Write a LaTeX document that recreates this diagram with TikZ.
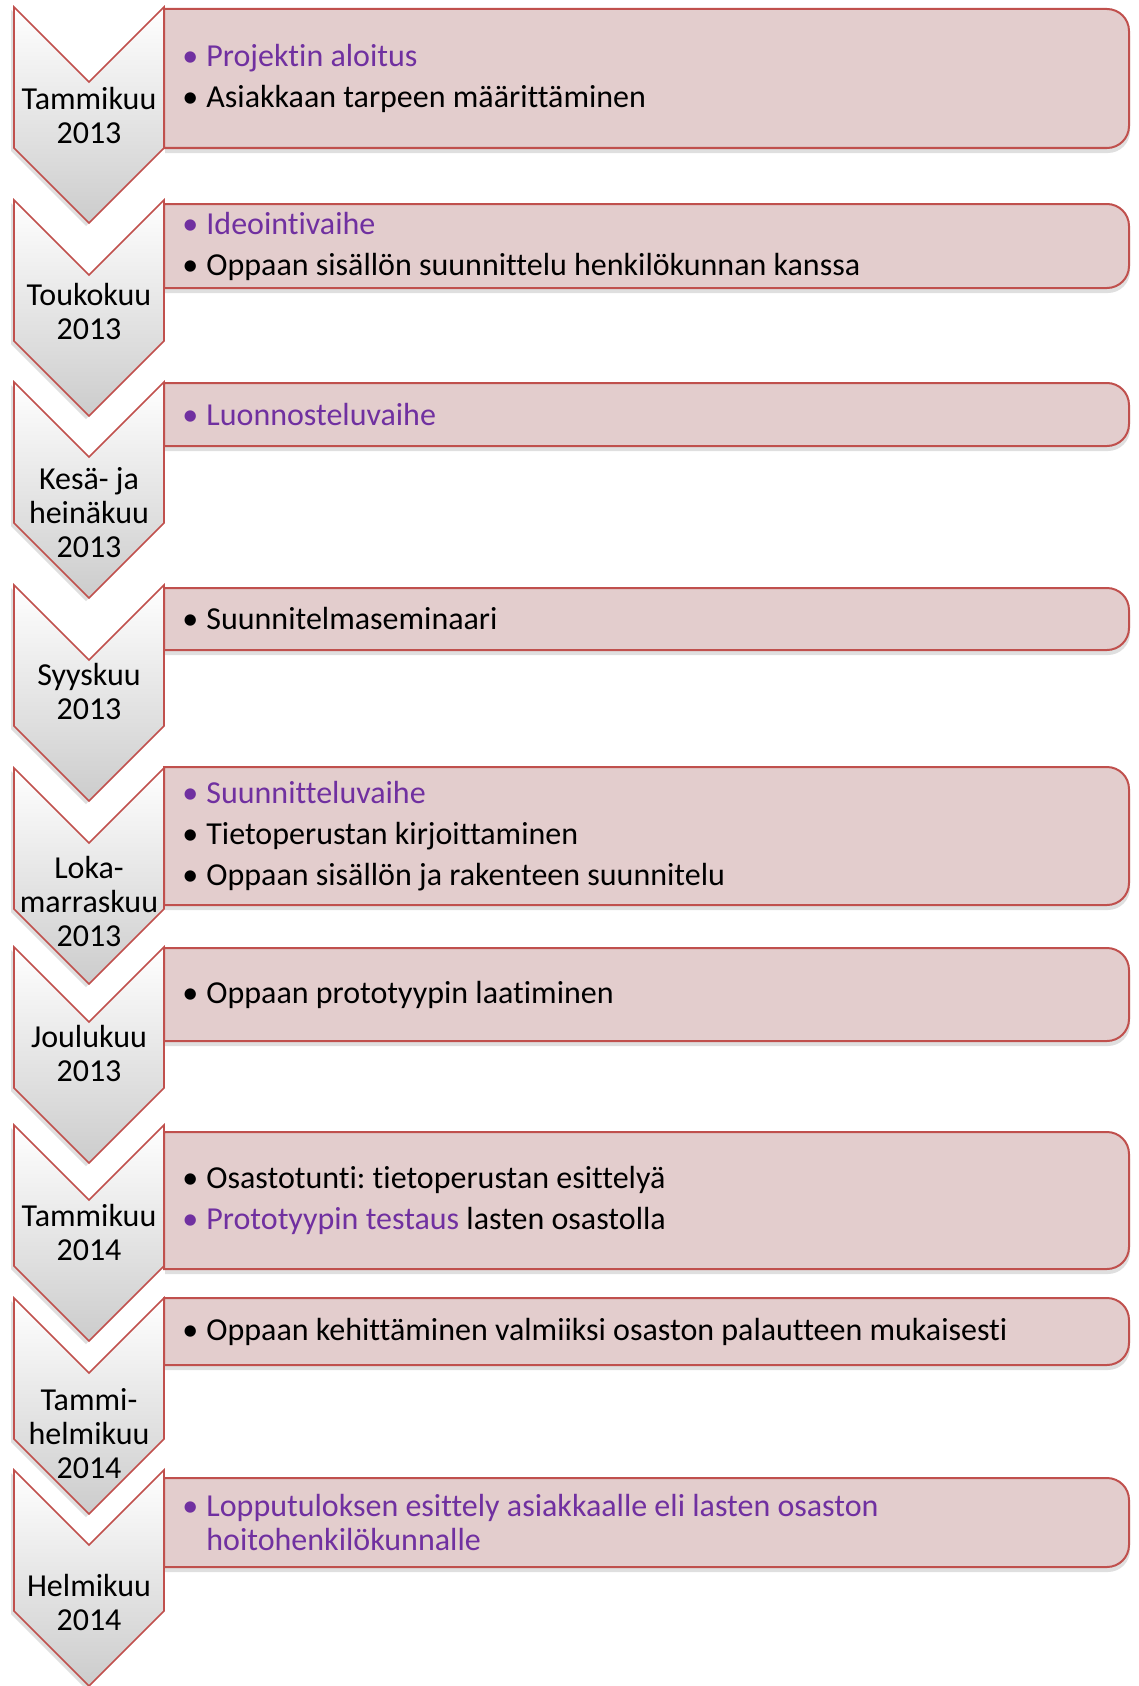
\documentclass[tikz,border=0pt]{standalone}
\usepackage{fontspec}
\setmainfont{Carlito}[Ligatures=NoCommon]
\usetikzlibrary{shadows}
\definecolor{boxfill}{HTML}{E3CDCD}
\definecolor{boxline}{HTML}{C0504D}
\definecolor{phasepurple}{HTML}{7030A0}
\newcommand{\bul}[1]{\makebox[12pt][l]{\textcolor{#1}{\textbullet}}}
\frenchspacing

\begin{document}
\begin{tikzpicture}[x=0.5pt,y=0.5pt,
    chev/.style={draw=boxline,line width=0.8pt,top color=white,bottom color=black!20,
      drop shadow={shadow xshift=-1.5pt,shadow yshift=-1.5pt,opacity=0.25}},
    phasebox/.style={draw=boxline,line width=1pt,fill=boxfill,
      drop shadow={shadow xshift=0.5pt,shadow yshift=-2.5pt,opacity=0.25}},
    month/.style={align=center,inner sep=0pt,font=\fontsize{16pt}{17pt}\selectfont},
    items/.style={anchor=west,align=left,inner sep=0pt,font=\fontsize{16pt}{17pt}\selectfont}]
    \useasboundingbox (0,0) rectangle (1139,-1686);

    % boxes on the right
    \draw[phasebox] (164,-9) -- (1107,-9) arc[start angle=90,end angle=0,radius=11pt]
        -- (1129,-126) arc[start angle=0,end angle=-90,radius=11pt] -- (164,-148) -- cycle;
    \draw[phasebox] (164,-204) -- (1107,-204) arc[start angle=90,end angle=0,radius=11pt]
        -- (1129,-266) arc[start angle=0,end angle=-90,radius=11pt] -- (164,-288) -- cycle;
    \draw[phasebox] (164,-383) -- (1107,-383) arc[start angle=90,end angle=0,radius=11pt]
        -- (1129,-424) arc[start angle=0,end angle=-90,radius=11pt] -- (164,-446) -- cycle;
    \draw[phasebox] (164,-588) -- (1107,-588) arc[start angle=90,end angle=0,radius=11pt]
        -- (1129,-628) arc[start angle=0,end angle=-90,radius=11pt] -- (164,-650) -- cycle;
    \draw[phasebox] (164,-767) -- (1107,-767) arc[start angle=90,end angle=0,radius=11pt]
        -- (1129,-883) arc[start angle=0,end angle=-90,radius=11pt] -- (164,-905) -- cycle;
    \draw[phasebox] (164,-948) -- (1107,-948) arc[start angle=90,end angle=0,radius=11pt]
        -- (1129,-1019) arc[start angle=0,end angle=-90,radius=11pt] -- (164,-1041) -- cycle;
    \draw[phasebox] (164,-1132) -- (1107,-1132) arc[start angle=90,end angle=0,radius=11pt]
        -- (1129,-1247) arc[start angle=0,end angle=-90,radius=11pt] -- (164,-1269) -- cycle;
    \draw[phasebox] (164,-1298) -- (1107,-1298) arc[start angle=90,end angle=0,radius=11pt]
        -- (1129,-1343) arc[start angle=0,end angle=-90,radius=11pt] -- (164,-1365) -- cycle;
    \draw[phasebox] (164,-1478) -- (1107,-1478) arc[start angle=90,end angle=0,radius=11pt]
        -- (1129,-1545) arc[start angle=0,end angle=-90,radius=11pt] -- (164,-1567) -- cycle;

    % chevrons on the left
    \draw[chev] (14,-7) -- ++(75,-75) -- ++(75,75) -- ++(0,-141) -- ++(-75,-75) -- ++(-75,75) -- cycle;
    \draw[chev] (14,-200) -- ++(75,-75) -- ++(75,75) -- ++(0,-141) -- ++(-75,-75) -- ++(-75,75) -- cycle;
    \draw[chev] (14,-382) -- ++(75,-75) -- ++(75,75) -- ++(0,-141) -- ++(-75,-75) -- ++(-75,75) -- cycle;
    \draw[chev] (14,-585) -- ++(75,-75) -- ++(75,75) -- ++(0,-141) -- ++(-75,-75) -- ++(-75,75) -- cycle;
    \draw[chev] (14,-768) -- ++(75,-75) -- ++(75,75) -- ++(0,-141) -- ++(-75,-75) -- ++(-75,75) -- cycle;
    \draw[chev] (14,-947) -- ++(75,-75) -- ++(75,75) -- ++(0,-141) -- ++(-75,-75) -- ++(-75,75) -- cycle;
    \draw[chev] (14,-1125) -- ++(75,-75) -- ++(75,75) -- ++(0,-141) -- ++(-75,-75) -- ++(-75,75) -- cycle;
    \draw[chev] (14,-1298) -- ++(75,-75) -- ++(75,75) -- ++(0,-141) -- ++(-75,-75) -- ++(-75,75) -- cycle;
    \draw[chev] (14,-1470) -- ++(75,-75) -- ++(75,75) -- ++(0,-141) -- ++(-75,-75) -- ++(-75,75) -- cycle;

    % months
    \node[month] (tam13) at (89,-115.5) {Tammikuu\\2013};
    \node[month] (tou13) at (89,-311)   {Toukokuu\\2013};
    \node[month] (kes13) at (89,-513)   {Kesä- ja\\heinäkuu\\2013};
    \node[month] (syy13) at (89,-691)   {Syyskuu\\2013};
    \node[month] (lok13) at (89,-901)   {Loka-\\marraskuu\\2013};
    \node[month] (jou13) at (89,-1053)  {Joulukuu\\2013};
    \node[month] (tam14) at (89,-1232)  {Tammikuu\\2014};
    \node[month] (tah14) at (89,-1434)  {Tammi-\\helmikuu\\2014};
    \node[month] (hel14) at (89,-1602)  {Helmikuu\\2014};

    % tasks
    \node[items] (aloitus) at (182,-78.5) {\bul{phasepurple}\textcolor{phasepurple}{Projektin aloitus}\\[3.5pt]
        \bul{black}Asiakkaan tarpeen määrittäminen};
    \node[items] (ideointi) at (182,-246) {\bul{phasepurple}\textcolor{phasepurple}{Ideointivaihe}\\[3.5pt]
        \bul{black}Oppaan sisällön suunnittelu henkilökunnan kanssa};
    \node[items] (luonnos) at (182,-414.5) {\bul{phasepurple}\textcolor{phasepurple}{Luonnosteluvaihe}};
    \node[items] (seminaari) at (182,-619) {\bul{black}Suunnitelmaseminaari};
    \node[items] (suunnittelu) at (182,-836) {\bul{phasepurple}\textcolor{phasepurple}{Suunnitteluvaihe}\\[3.5pt]
        \bul{black}Tietoperustan kirjoittaminen\\[3.5pt]
        \bul{black}Oppaan sisällön ja rakenteen suunnitelu};
    \node[items] (prototyyppi) at (182,-994.5) {\bul{black}Oppaan prototyypin laatiminen};
    \node[items] (testaus) at (182,-1200.5) {\bul{black}Osastotunti: tietoperustan esittelyä\\[3.5pt]
        \bul{phasepurple}\textcolor{phasepurple}{Prototyypin testaus} lasten osastolla};
    \node[items] (kehitys) at (182,-1331.5) {\bul{black}Oppaan kehittäminen valmiiksi osaston palautteen mukaisesti};
    \node[items] (esittely) at (182,-1522.5) {\bul{phasepurple}\textcolor{phasepurple}{Lopputuloksen esittely asiakkaalle eli lasten osaston}\\
        \hspace*{12pt}\textcolor{phasepurple}{hoitohenkilökunnalle}};
\end{tikzpicture}
\end{document}
